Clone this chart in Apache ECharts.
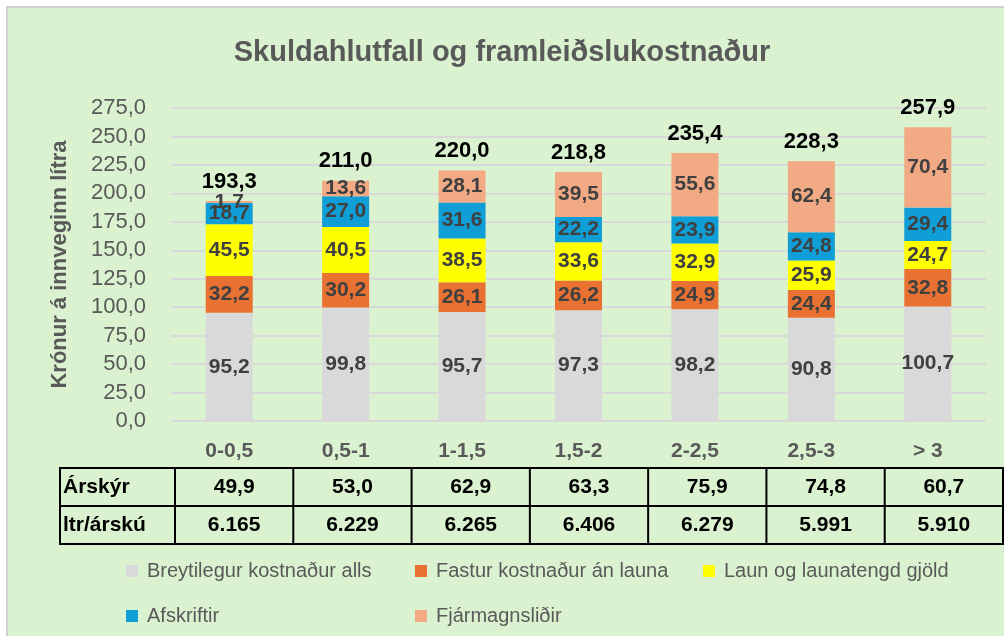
<!DOCTYPE html>
<html>
<head>
<meta charset="utf-8">
<script src="https://cdn.jsdelivr.net/npm/echarts@6/dist/echarts.min.js"></script>
<style>
html,body{margin:0;padding:0;background:#fff;}
#chart{width:1004px;height:636px;}
</style>
</head>
<body>
<div id="chart"></div>
<script>
const categories = ['0-0,5', '0,5-1', '1-1,5', '1,5-2', '2-2,5', '2,5-3', '> 3'];
const seriesNames = ['Breytilegur kostnaður alls', 'Fastur kostnaður án launa', 'Laun og launatengd gjöld', 'Afskriftir', 'Fjármagnsliðir'];
const breytilegur = [95.2, 99.8, 95.7, 97.3, 98.2, 90.8, 100.7];
const fastur = [32.2, 30.2, 26.1, 26.2, 24.9, 24.4, 32.8];
const laun = [45.5, 40.5, 38.5, 33.6, 32.9, 25.9, 24.7];
const afskriftir = [18.7, 27.0, 31.6, 22.2, 23.9, 24.8, 29.4];
const fjarmagn = [1.7, 13.6, 28.1, 39.5, 55.6, 62.4, 70.4];
const totals = [193.3, 211.0, 220.0, 218.8, 235.4, 228.3, 257.9];
const tableRowLabels = ['Árskýr', 'ltr/árskú'];
const arskyr = [49.9, 53.0, 62.9, 63.3, 75.9, 74.8, 60.7];
const ltrArsku = [6165, 6229, 6265, 6406, 6279, 5991, 5910];

const colors = ['#d9d9d9', '#e97132', '#ffff00', '#0f9ed5', '#f2aa84'];
const seriesData = [breytilegur, fastur, laun, afskriftir, fjarmagn];

const fmt1 = v => Number(v).toFixed(1).replace('.', ',');
const fmtThousands = v => String(v).replace(/\B(?=(\d{3})+(?!\d))/g, '.');

const chart = echarts.init(document.getElementById('chart'), null, {renderer: 'canvas'});

const series = seriesData.map((d, i) => ({
  name: seriesNames[i],
  type: 'bar',
  stack: 'total',
  barWidth: 47,
  data: d,
  itemStyle: {color: colors[i]},
  label: {
    show: true,
    position: 'inside',
    formatter: p => fmt1(p.value),
    color: '#404040',
    fontFamily: 'Liberation Sans',
    fontWeight: 'bold',
    fontSize: 21
  },
  labelLayout: {hideOverlap: false}
}));
series.push({
  name: 'Total',
  type: 'line',
  data: totals,
  symbol: 'circle',
  symbolSize: 1,
  showSymbol: true,
  itemStyle: {color: 'rgba(0,0,0,0)'},
  lineStyle: {width: 0, opacity: 0},
  silent: true,
  z: 5,
  label: {
    show: true,
    position: 'top',
    distance: 8,
    formatter: p => fmt1(p.value),
    color: '#000',
    fontFamily: 'Liberation Sans',
    fontWeight: 'bold',
    fontSize: 22
  }
});

// table geometry (layout constants)
const tblLeft = 60, tblLabelRight = 175, tblRight = 1003, tblTop = 468, tblMid = 506, tblBottom = 544;
const colW = (tblRight - tblLabelRight) / categories.length;
const graphics = [];
graphics.push({
  type: 'rect', z: -10, silent: true,
  shape: {x: 7, y: 7, width: 1010, height: 640},
  style: {fill: '#daf2d0', stroke: '#d0d0d0', lineWidth: 2}
});
graphics.push({type: 'rect', shape: {x: tblLeft, y: tblTop, width: tblRight - tblLeft, height: tblBottom - tblTop}, style: {fill: 'none', stroke: '#000', lineWidth: 2}});
graphics.push({type: 'line', shape: {x1: tblLeft, y1: tblMid, x2: tblRight, y2: tblMid}, style: {stroke: '#000', lineWidth: 2}});
for (let k = 0; k < categories.length; k++) {
  const x = tblLabelRight + k * colW;
  graphics.push({type: 'line', shape: {x1: x, y1: tblTop, x2: x, y2: tblBottom}, style: {stroke: '#000', lineWidth: 2}});
}
const rows = [arskyr.map(fmt1), ltrArsku.map(fmtThousands)];
const rowCenters = [(tblTop + tblMid) / 2, (tblMid + tblBottom) / 2];
rows.forEach((vals, r) => {
  graphics.push({
    type: 'text', x: tblLeft + 3, y: rowCenters[r],
    style: {text: tableRowLabels[r], fill: '#000', font: 'bold 21px "Liberation Sans"', textAlign: 'left', textVerticalAlign: 'middle'}
  });
  vals.forEach((v, c) => {
    graphics.push({
      type: 'text', x: tblLabelRight + (c + 0.5) * colW, y: rowCenters[r],
      style: {text: v, fill: '#000', font: 'bold 21px "Liberation Sans"', textAlign: 'center', textVerticalAlign: 'middle'}
    });
  });
});

const legendPos = [[121, 556], [410, 556], [698, 556], [121, 601], [410, 601]];
const legends = seriesNames.map((n, i) => ({
  data: [n],
  left: legendPos[i][0],
  top: legendPos[i][1],
  itemWidth: 12,
  itemHeight: 12,
  icon: 'rect',
  selectedMode: false,
  textStyle: {color: '#595959', fontSize: 20, fontFamily: 'Liberation Sans', padding: [0, 0, 0, 4]}
}));

chart.setOption({
  backgroundColor: '#ffffff',
  animation: false,
  title: {
    text: 'Skuldahlutfall og framleiðslukostnaður',
    left: 'center',
    top: 33,
    textStyle: {color: '#595959', fontSize: 29, fontWeight: 'bold', fontFamily: 'Liberation Sans'}
  },
  legend: legends,
  grid: {left: 171, right: 18, top: 108, bottom: 215},
  xAxis: {
    type: 'category',
    data: categories,
    axisLine: {show: false},
    axisTick: {show: false},
    axisLabel: {color: '#595959', fontWeight: 'bold', fontSize: 21, fontFamily: 'Liberation Sans', margin: 20}
  },
  yAxis: {
    type: 'value',
    min: 0,
    max: 275,
    interval: 25,
    name: 'Krónur á innveginn lítra',
    nameLocation: 'middle',
    nameGap: 100,
    nameTextStyle: {color: '#595959', fontWeight: 'bold', fontSize: 22, fontFamily: 'Liberation Sans'},
    axisLine: {show: false},
    axisTick: {show: false},
    axisLabel: {color: '#595959', fontSize: 22, fontFamily: 'Liberation Sans', margin: 25, formatter: v => fmt1(v)},
    splitLine: {lineStyle: {color: '#d9d9d9', width: 2}}
  },
  series: series,
  graphic: graphics
});
</script>
</body>
</html>
